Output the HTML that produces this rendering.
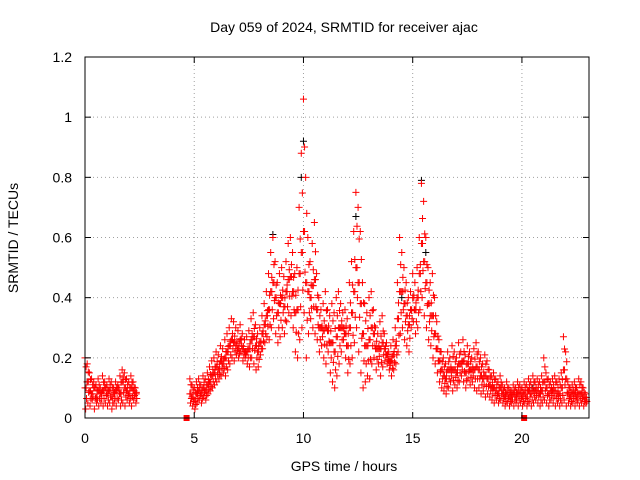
<!DOCTYPE html>
<html><head><meta charset="utf-8"><style>
body{margin:0;background:#fff}
svg{display:block;font-family:"Liberation Sans",sans-serif}
</style></head><body>
<svg id="chart" width="640" height="480">
<rect width="640" height="480" fill="#fff"/>
<text x="344" y="32" font-size="14" text-anchor="middle">Day 059 of 2024, SRMTID for receiver ajac</text>
<text x="344" y="471" font-size="14" text-anchor="middle">GPS time / hours</text>
<text transform="translate(18,238) rotate(-90)" font-size="14" text-anchor="middle">SRMTID / TECUs</text>
<g id="grid"></g><g id="marks"></g><g id="axes"></g>
</svg>
<script>
const times=[0.0,0.1,0.2,0.3,0.4,0.5,0.6,0.7,0.8,0.9,1.0,1.1,1.2,1.3,1.4,1.5,1.6,1.7,1.8,1.9,2.0,2.1,2.2,2.3,
4.8,4.9,5.0,5.1,5.2,5.3,5.4,5.5,5.6,5.7,5.8,5.9,6.0,6.1,6.2,6.3,6.4,6.5,6.6,6.7,6.8,6.9,7.0,7.1,7.2,7.3,7.4,7.5,7.6,7.7,7.8,7.9,
8.0,8.1,8.2,8.3,8.4,8.5,8.6,8.7,8.8,8.9,9.0,9.1,9.2,9.3,9.4,9.5,9.6,9.7,9.8,9.9,10.0,10.1,10.2,10.3,10.4,10.5,10.6,10.7,10.8,10.9,
11.0,11.1,11.2,11.3,11.4,11.5,11.6,11.7,11.8,11.9,12.0,12.1,12.2,12.3,12.4,12.5,12.6,12.7,12.8,12.9,13.0,13.1,13.2,13.3,13.4,13.5,13.6,13.7,13.8,13.9,
14.0,14.1,14.2,14.3,14.4,14.5,14.6,14.7,14.8,14.9,15.0,15.1,15.2,15.3,15.4,15.5,15.6,15.7,15.8,15.9,16.0,16.1,16.2,16.3,16.4,16.5,16.6,16.7,16.8,16.9,
17.0,17.1,17.2,17.3,17.4,17.5,17.6,17.7,17.8,17.9,18.0,18.1,18.2,18.3,18.4,18.5,18.6,18.7,18.8,18.9,19.0,19.1,19.2,19.3,19.4,19.5,19.6,19.7,19.8,19.9,
20.0,20.1,20.2,20.3,20.4,20.5,20.6,20.7,20.8,20.9,21.0,21.1,21.2,21.3,21.4,21.5,21.6,21.7,21.8,21.9,22.0,22.1,22.2,22.3,22.4,22.5,22.6,22.7,22.8,22.9];
const hiVals=[.20,.18,.15,.13,.12,.11,.13,.10,.14,.12,.11,.13,.12,.10,.12,.11,.14,.16,.15,.13,.12,.14,.12,.10,
.13,.11,.10,.12,.13,.11,.14,.13,.15,.17,.19,.20,.22,.21,.24,.23,.26,.28,.30,.33,.32,.30,.29,.31,.28,.26,.27,.29,.33,.35,.31,.28,
.30,.34,.38,.42,.48,.55,.60,.52,.45,.48,.50,.47,.52,.58,.60,.55,.48,.50,.70,.88,1.06,.80,.60,.52,.58,.65,.48,.40,.36,.38,
.42,.36,.34,.38,.35,.40,.42,.38,.35,.36,.33,.45,.52,.62,.75,.70,.62,.45,.38,.35,.40,.42,.36,.30,.28,.32,.34,.28,.25,.22,
.24,.26,.30,.45,.60,.55,.50,.45,.40,.42,.48,.45,.50,.60,.78,.72,.60,.50,.45,.48,.40,.32,.26,.22,.20,.18,.22,.20,.24,.22,
.20,.25,.22,.26,.21,.24,.22,.20,.23,.25,.22,.20,.18,.21,.19,.16,.14,.15,.13,.12,.14,.11,.10,.12,.10,.09,.11,.10,.12,.11,
.10,.12,.11,.13,.12,.14,.12,.13,.12,.14,.20,.15,.13,.12,.13,.14,.12,.13,.15,.27,.22,.12,.10,.11,.12,.10,.13,.12,.10,.08];
const midVals=[.10,.12,.09,.08,.10,.07,.09,.08,.09,.10,.08,.09,.07,.08,.09,.10,.08,.12,.10,.09,.08,.10,.09,.08,
.08,.07,.06,.08,.09,.08,.10,.09,.11,.12,.14,.15,.17,.16,.19,.18,.20,.22,.24,.26,.25,.24,.23,.26,.23,.22,.22,.23,.26,.27,.24,.22,
.25,.28,.31,.34,.36,.42,.45,.40,.35,.38,.40,.37,.42,.46,.47,.42,.35,.36,.48,.55,.62,.45,.42,.40,.44,.46,.36,.30,.30,.29,
.30,.29,.25,.25,.22,.27,.30,.30,.30,.28,.24,.30,.35,.42,.50,.45,.38,.28,.24,.24,.26,.30,.28,.23,.23,.23,.25,.23,.21,.19,
.19,.21,.24,.33,.42,.42,.38,.34,.31,.36,.40,.36,.40,.48,.58,.52,.45,.38,.34,.34,.28,.23,.19,.16,.14,.13,.16,.16,.16,.16,
.15,.18,.18,.19,.15,.18,.16,.16,.16,.17,.16,.14,.13,.14,.13,.11,.10,.10,.09,.08,.10,.08,.07,.08,.07,.07,.08,.07,.08,.08,
.07,.08,.07,.09,.08,.09,.09,.09,.08,.09,.12,.10,.08,.09,.09,.09,.08,.08,.10,.16,.13,.08,.07,.08,.08,.07,.08,.08,.07,.06];
const loVals=[.03,.05,.04,.06,.03,.05,.04,.05,.04,.05,.04,.05,.03,.05,.04,.06,.04,.05,.04,.06,.05,.04,.06,.05,
.05,.04,.03,.05,.06,.05,.07,.06,.08,.09,.10,.11,.12,.13,.14,.15,.14,.16,.18,.20,.19,.21,.20,.22,.19,.20,.18,.17,.20,.18,.16,.17,
.21,.23,.25,.27,.26,.30,.33,.28,.25,.27,.30,.28,.32,.35,.34,.30,.22,.20,.26,.30,.35,.20,.28,.33,.30,.28,.26,.22,.24,.20,
.18,.22,.15,.12,.10,.14,.18,.22,.26,.20,.15,.18,.20,.25,.30,.22,.15,.10,.12,.14,.13,.18,.20,.16,.18,.14,.17,.19,.18,.16,
.14,.16,.18,.22,.28,.30,.26,.24,.22,.30,.32,.28,.30,.36,.40,.34,.30,.26,.24,.20,.18,.15,.12,.10,.09,.08,.10,.12,.09,.11,
.10,.12,.14,.12,.10,.13,.11,.12,.10,.09,.10,.08,.09,.07,.08,.07,.06,.05,.06,.05,.06,.05,.04,.05,.04,.05,.04,.05,.04,.05,
.04,.05,.04,.05,.04,.05,.06,.05,.04,.05,.06,.05,.04,.06,.05,.04,.05,.04,.05,.06,.04,.05,.04,.05,.04,.05,.04,.05,.04,.05];
const blackTimes=[0.1,8.6,9.9,10.0,12.4,14.5,15.4,15.6,20.5];
const blackVals=[.12,.61,.80,.92,.67,.40,.79,.55,.10];
const zeroTimes=[4.65,20.1];
const xTicks=[0,5,10,15,20];
const yTicks=[0,0.2,0.4,0.6,0.8,1,1.2];
const yTickLabels=["0","0.2","0.4","0.6","0.8","1","1.2"];

const L=85,R=589,T=57,B=418,XMAX=23.07,YMAX=1.2;
const xs=v=>L+v/XMAX*(R-L), ys=v=>B-v/YMAX*(B-T);
const NS="http://www.w3.org/2000/svg";
function mk(tag,parent,attrs){const e=document.createElementNS(NS,tag);for(const k in attrs)e.setAttribute(k,attrs[k]);parent.appendChild(e);return e;}
const grid=document.getElementById('grid'),marks=document.getElementById('marks'),axes=document.getElementById('axes');
xTicks.forEach(t=>{const x=xs(t);
 if(t>0){const g=mk('line',grid,{x1:x,x2:x,y1:T,y2:B,stroke:'#a0a0a0','stroke-dasharray':'1,3'});
 
 }
 mk('line',axes,{x1:x,x2:x,y1:B,y2:B-6,stroke:'#000'});mk('line',axes,{x1:x,x2:x,y1:T,y2:T+6,stroke:'#000'});
 const tx=mk('text',axes,{x:x,y:B+25,'font-size':14,'text-anchor':'middle'});tx.textContent=t;
 
 });
yTicks.forEach((t,i)=>{const y=ys(t);
 if(t>0&&t<YMAX){const g=mk('line',grid,{x1:L,x2:R,y1:y,y2:y,stroke:'#a0a0a0','stroke-dasharray':'1,3'});
 
 }
 mk('line',axes,{x1:L,x2:L+6,y1:y,y2:y,stroke:'#000'});mk('line',axes,{x1:R,x2:R-6,y1:y,y2:y,stroke:'#000'});
 const tx=mk('text',axes,{x:L-13,y:y+5,'font-size':14,'text-anchor':'end'});tx.textContent=yTickLabels[i];
 
 });
const box=mk('rect',axes,{x:L,y:T,width:R-L,height:B-T,fill:'none',stroke:'#000'});


function plus(t,v,col,name){const x=xs(t),y=ys(v);
 const p=mk('path',marks,{d:`M${x-3.5},${y}H${x+3.5}M${x},${y-3.5}V${y+3.5}`,stroke:col,'stroke-width':1,fill:'none'});
 
 }
blackTimes.forEach((t,i)=>plus(t,blackVals[i],'#000','black-point'));
times.forEach((t,i)=>{
 plus(t,hiVals[i],'#f00','srmtid-point');
 plus(t+0.05,hiVals[i]*0.85,'#f00','srmtid-point');
 plus(t,midVals[i],'#f00','srmtid-point');
 plus(t+0.05,midVals[i],'#f00','srmtid-point');
 plus(t+0.03,loVals[i],'#f00','srmtid-point');
 plus(t+0.07,(midVals[i]+loVals[i])/2,'#f00','srmtid-point');
});
zeroTimes.forEach(t=>{const r=mk('rect',marks,{x:xs(t)-3,y:B-3,width:6,height:6,fill:'#f00'});
 
 });
</script>
</body></html>
